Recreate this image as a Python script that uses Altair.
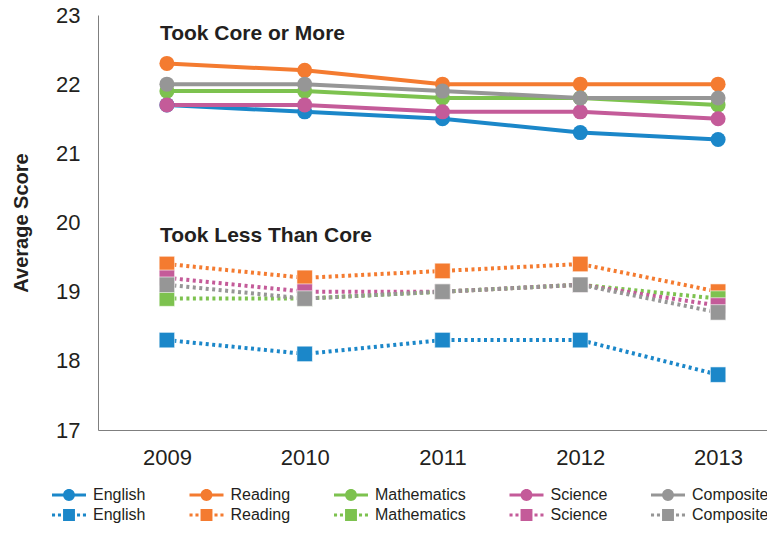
import altair as alt
import pandas as pd

years = [2009, 2010, 2011, 2012, 2013]
subjects = ["English", "Reading", "Mathematics", "Science", "Composite"]
colors = ["#1b87c9", "#f47b30", "#7dc24f", "#c45b99", "#969696"]

core_english = [21.7, 21.6, 21.5, 21.3, 21.2]
core_reading = [22.3, 22.2, 22.0, 22.0, 22.0]
core_math = [21.9, 21.9, 21.8, 21.8, 21.7]
core_science = [21.7, 21.7, 21.6, 21.6, 21.5]
core_composite = [22.0, 22.0, 21.9, 21.8, 21.8]

less_english = [18.3, 18.1, 18.3, 18.3, 17.8]
less_reading = [19.4, 19.2, 19.3, 19.4, 19.0]
less_math = [18.9, 18.9, 19.0, 19.1, 18.9]
less_science = [19.2, 19.0, 19.0, 19.1, 18.8]
less_composite = [19.1, 18.9, 19.0, 19.1, 18.7]

annotation_text = ["Took Core or More", "Took Less Than Core"]
annotation_year = [2009, 2009]
annotation_score = [22.73, 19.81]

core_series = [core_english, core_reading, core_math, core_science, core_composite]
less_series = [less_english, less_reading, less_math, less_science, less_composite]

rows = []
for grp, series in (("core", core_series), ("less", less_series)):
    for subj, col, vals in zip(subjects, colors, series):
        for y, v in zip(years, vals):
            rows.append({"year": y, "score": v, "subject": subj, "group": grp,
                         "key": f"{subj}|{grp}", "hex": col})
df = pd.DataFrame(rows)
ann = pd.DataFrame({"text": annotation_text, "year": annotation_year, "score": annotation_score})

core_keys = [f"{s}|core" for s in subjects]
less_keys = [f"{s}|less" for s in subjects]

FONT = "Liberation Sans"
TXT = "#231f20"

core_path = ("M-1,-0.09H-0.3V0.09H-1Z M0.3,-0.09H1V0.09H0.3Z "
             "M0.35,0A0.35,0.35,0,1,1,-0.35,0A0.35,0.35,0,1,1,0.35,0Z")
less_path = ("M-1,-0.09H-0.82V0.09H-1Z M-0.65,-0.09H-0.47V0.09H-0.65Z "
             "M0.47,-0.09H0.65V0.09H0.47Z M0.82,-0.09H1V0.09H0.82Z "
             "M-0.35,-0.35H0.35V0.35H-0.35Z")

x_enc = alt.X("year:Q",
              scale=alt.Scale(domain=[2008.5, 2013.355], nice=False, zero=False),
              axis=alt.Axis(values=years, format="d", title=None, grid=False,
                            ticks=False, tickSize=0, labelFontSize=22, labelFont=FONT,
                            labelColor=TXT, labelPadding=17, domainColor="#7f7f7f",
                            domainWidth=1))
y_enc = alt.Y("score:Q",
              scale=alt.Scale(domain=[17, 23], nice=False, zero=False),
              axis=alt.Axis(values=[17, 18, 19, 20, 21, 22, 23], format="d",
                            title="Average Score",
                            grid=False, ticks=False, tickSize=0, labelFontSize=22,
                            labelFont=FONT, labelColor=TXT, labelPadding=18,
                            titleFont=FONT, titleFontSize=20, titleFontWeight="bold",
                            titleColor=TXT, titlePadding=24, domainColor="#7f7f7f",
                            domainWidth=1))

hex_color = alt.Color("hex:N", scale=None)

core_df = df[df["group"] == "core"]
less_df = df[df["group"] == "less"]

core_lines = alt.Chart(core_df).mark_line(strokeWidth=4).encode(
    x=x_enc, y=y_enc, color=hex_color, detail="subject:N")
less_lines = alt.Chart(less_df).mark_line(strokeWidth=4, strokeDash=[3, 3.5]).encode(
    x="year:Q", y="score:Q", color=hex_color, detail="subject:N")

circles = alt.Chart(core_df).mark_circle(size=225, opacity=1).encode(
    x="year:Q", y="score:Q", color=hex_color)
squares = alt.Chart(less_df).mark_square(
    size=240, opacity=1, stroke="white", strokeWidth=0.6).encode(
    x="year:Q", y="score:Q", color=hex_color)


def make_legend(y):
    return alt.Legend(title=None, orient="none", legendX=-46, legendY=y,
                      direction="horizontal", columns=5, symbolSize=1156,
                      labelOffset=7, columnPadding=43.5, rowPadding=0, padding=0,
                      labelFontSize=16, labelFont=FONT, labelColor=TXT,
                      labelExpr="split(datum.label, '|')[0]", symbolStrokeWidth=0,
                      symbolOpacity=1)


def legend_layer(keys, path, y):
    lg = make_legend(y)
    return alt.Chart(df).transform_filter("false").mark_point(filled=True).encode(
        x="year:Q", y="score:Q",
        color=alt.Color("key:N", scale=alt.Scale(domain=keys, range=colors), legend=lg),
        shape=alt.Shape("key:N", scale=alt.Scale(domain=keys, range=[path] * 5), legend=lg),
    )


legend_core = legend_layer(core_keys, core_path, 463)
legend_less = legend_layer(less_keys, less_path, 483)

labels = alt.Chart(ann).mark_text(align="left", baseline="middle", dx=-7, font=FONT,
                                  fontSize=21, fontWeight="bold", color=TXT).encode(
    x="year:Q", y="score:Q", text="text:N")

chart = alt.layer(core_lines, less_lines, circles, squares, legend_core, legend_less,
                  labels).resolve_scale(
    color="independent", shape="independent"
).resolve_legend(
    color="independent", shape="independent"
).properties(
    width=669, height=415,
    autosize=alt.AutoSizeParams(type="none"),
    padding={"left": 90, "top": 7, "right": 0, "bottom": 95},
).configure_view(stroke=None)

chart.save("out.html", embed_options={"renderer": "svg", "actions": False})
